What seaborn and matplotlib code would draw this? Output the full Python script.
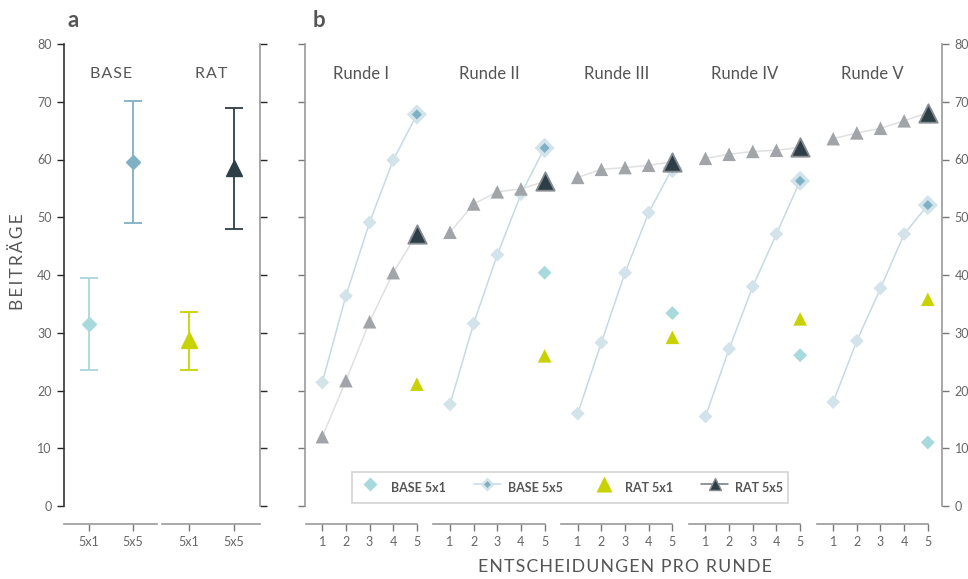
import numpy as np
import pandas as pd
import matplotlib.pyplot as plt
import seaborn as sns
from matplotlib.lines import Line2D
from matplotlib.legend_handler import HandlerTuple

# panel a: mean contributions with ranges
conds = ["BASE 5x1", "BASE 5x5", "RAT 5x1", "RAT 5x5"]
cond_ticks = ["5x1", "5x5", "5x1", "5x5"]
means = [31.5, 59.5, 28.8, 58.5]
err_lo = [23.6, 49.0, 23.6, 48.0]
err_hi = [39.4, 70.1, 33.6, 68.9]

# panel b: contributions per decision within each round
rounds = ["Runde I", "Runde II", "Runde III", "Runde IV", "Runde V"]
decisions = [1, 2, 3, 4, 5]
base55 = [[21.4, 36.4, 49.1, 59.9, 67.8],
          [17.6, 31.6, 43.5, 54.0, 62.0],
          [16.0, 28.3, 40.4, 50.8, 58.5],
          [15.5, 27.2, 38.0, 47.1, 56.3],
          [18.0, 28.6, 37.7, 47.1, 52.1]]
rat55 = [[12.0, 21.7, 31.9, 40.4, 47.1],
         [47.4, 52.3, 54.4, 54.9, 56.2],
         [56.9, 58.3, 58.6, 59.0, 59.6],
         [60.2, 60.9, 61.4, 61.6, 62.1],
         [63.6, 64.6, 65.4, 66.7, 68.1]]
base51 = [46.5, 40.4, 33.4, 26.1, 11.0]
rat51 = [21.1, 26.0, 29.2, 32.4, 35.8]

# colours
C_BASE1 = "#a8d9dd"
C_BASE5 = "#7fb0c4"
C_BASE5_LIGHT = "#d2e3ea"
C_BASE5_LINE = "#c6dae4"
C_RAT1 = "#c8d200"
C_RAT5 = "#2e3e47"
C_RAT5_GRAY = "#a1a4a8"
C_RAT5_LINE = "#e0e0e0"
C_TEXT = "#555555"
C_SPINE = "#9a9a9a"

sns.set_theme(style="white")
plt.rcParams["font.family"] = ["Lato", "DejaVu Sans"]


def spaced(s, sep="\u200a"):
    return sep.join(s)


fig = plt.figure(figsize=(9.68, 5.79), dpi=100)
AX_BOTTOM = 1 - 506 / 579
AX_HEIGHT = 462 / 579

# ---------------- panel a ----------------
xa = [0, 1, 2.3, 3.33]
axa = fig.add_axes([64 / 968, AX_BOTTOM, 196 / 968, AX_HEIGHT])
axa.set_xlim(-0.575, 3.93)
axa.set_ylim(0, 80)
for x, m, lo, hi, c, mk, ms in zip(xa, means, err_lo, err_hi,
                                   [C_BASE1, C_BASE5, C_RAT1, C_RAT5],
                                   ["D", "D", "^", "^"], [7.6, 7.6, 11.5, 11.5]):
    axa.errorbar([x], [m], yerr=[[m - lo], [hi - m]], fmt=mk, color=c, ms=ms,
                 mec=c, elinewidth=1.3, capsize=6.4, capthick=1.3)
for s in ["top", "bottom"]:
    axa.spines[s].set_visible(False)
axa.spines["left"].set_color("#333333")
axa.spines["right"].set_color(C_SPINE)
for s in ["left", "right"]:
    axa.spines[s].set_linewidth(1.2)
axa.set_xticks([])
axa.set_yticks(range(0, 81, 10))
axa.tick_params(axis="y", left=True, right=True, labelleft=True, labelright=False,
                direction="out", length=5, width=1, labelsize=9, labelcolor="#666666", pad=4)
for t in axa.yaxis.get_major_ticks():
    t.tick1line.set_color("#333333")
    t.tick2line.set_color(C_SPINE)
axa.text((xa[0] + xa[1]) / 2, 74.8, spaced("BASE"), ha="center", va="center",
         fontsize=11.5, color=C_TEXT)
axa.text((xa[2] + xa[3]) / 2, 74.8, spaced("RAT"), ha="center", va="center",
         fontsize=11.5, color=C_TEXT)


def seg_axis(parent, lo, hi, ticks, labels, ypix=524, pad=4):
    x0, x1 = parent.get_xlim()
    pos = parent.get_position()
    left = pos.x0 + (lo - x0) / (x1 - x0) * pos.width
    width = (hi - lo) / (x1 - x0) * pos.width
    ax = fig.add_axes([left, 1 - ypix / 579, width, 0.0001])
    ax.set_xlim(lo, hi)
    ax.set_facecolor("none")
    for s in ["top", "left", "right"]:
        ax.spines[s].set_visible(False)
    ax.spines["bottom"].set_color(C_SPINE)
    ax.spines["bottom"].set_linewidth(1.2)
    ax.set_yticks([])
    ax.set_xticks(ticks)
    ax.set_xticklabels(labels)
    ax.tick_params(axis="x", bottom=True, direction="out", length=5, width=1,
                   color="#777777", labelsize=9, labelcolor="#666666", pad=pad)
    return ax


seg_axis(axa, -0.575, 1.56, xa[:2], cond_ticks[:2])
seg_axis(axa, 1.68, 3.93, xa[2:], cond_ticks[2:])

# ---------------- panel b ----------------
GAP = 5.4
rows = []
for g, r in enumerate(rounds):
    for i, d in enumerate(decisions):
        rows.append({"runde": r, "x": g * GAP + d, "entscheidung": d,
                     "BASE 5x5": base55[g][i], "RAT 5x5": rat55[g][i]})
df = pd.DataFrame(rows)
df_end = df[df["entscheidung"] == 5].copy()
df_end["BASE 5x1"] = base51
df_end["RAT 5x1"] = rat51

axb = fig.add_axes([305 / 968, AX_BOTTOM, 637 / 968, AX_HEIGHT])
sns.lineplot(data=df, x="x", y="BASE 5x5", units="runde", estimator=None,
             color=C_BASE5_LINE, lw=1.1, ax=axb, zorder=1)
sns.lineplot(data=df, x="x", y="RAT 5x5", units="runde", estimator=None,
             color=C_RAT5_LINE, lw=1.1, ax=axb, zorder=1)
sns.scatterplot(data=df[df["entscheidung"] < 5], x="x", y="BASE 5x5", marker="D",
                s=50, color=C_BASE5_LIGHT, edgecolor="none", ax=axb, zorder=2)
sns.scatterplot(data=df_end, x="x", y="BASE 5x1", marker="D", s=50,
                color=C_BASE1, edgecolor="none", ax=axb, zorder=3)
sns.scatterplot(data=df_end, x="x", y="BASE 5x5", marker="D", s=105,
                color=C_BASE5_LIGHT, edgecolor="none", ax=axb, zorder=3)
sns.scatterplot(data=df_end, x="x", y="BASE 5x5", marker="D", s=26,
                color=C_BASE5, edgecolor="none", ax=axb, zorder=3)
sns.scatterplot(data=df_end, x="x", y="RAT 5x1", marker="^", s=95,
                color=C_RAT1, edgecolor="none", ax=axb, zorder=3)
sns.scatterplot(data=df[df["entscheidung"] < 5], x="x", y="RAT 5x5", marker="^",
                s=95, color=C_RAT5_GRAY, edgecolor="none", ax=axb, zorder=4)
sns.scatterplot(data=df_end, x="x", y="RAT 5x5", marker="^", s=175,
                color=C_RAT5, edgecolor="#858b90", linewidth=1.3, ax=axb, zorder=5)

axb.set_xlim(0.27, 27.2)
axb.set_ylim(0, 80)
axb.set_xlabel("")
axb.set_ylabel("")
axb.set_xticks([])
for s in ["top", "bottom"]:
    axb.spines[s].set_visible(False)
for s in ["left", "right"]:
    axb.spines[s].set_color(C_SPINE)
    axb.spines[s].set_linewidth(1.2)
axb.set_yticks(range(0, 81, 10))
axb.tick_params(axis="y", left=True, right=True, labelleft=False, labelright=True,
                direction="out", length=5, width=1, color="#777777",
                labelsize=9, labelcolor="#666666", pad=4)
for g, r in enumerate(rounds):
    axb.text(g * GAP + 2.65, 74.8, r, ha="center", va="center", fontsize=12,
             color=C_TEXT)
    seg_axis(axb, g * GAP + 0.3, g * GAP + 5, [g * GAP + d for d in decisions],
             [str(d) for d in decisions])

# legend
h_b1 = Line2D([], [], marker="D", ls="none", color=C_BASE1, ms=7, mec="none")
h_b5a = Line2D([], [], marker="D", ls="-", color=C_BASE5_LINE, mfc=C_BASE5_LIGHT,
               ms=7.5, mec="none", lw=1.1)
h_b5b = Line2D([], [], marker="D", ls="none", color=C_BASE5, ms=3.5, mec="none")
h_r1 = Line2D([], [], marker="^", ls="none", color=C_RAT1, ms=11, mec="none")
h_r5 = Line2D([], [], marker="^", ls="-", color="#6f767b", mfc=C_RAT5,
              ms=9, mec="#858b90", lw=1.1)
leg = axb.legend([h_b1, (h_b5a, h_b5b), h_r1, h_r5],
                 ["BASE 5x1", "BASE 5x5", "RAT 5x1", "RAT 5x5"],
                 handler_map={tuple: HandlerTuple(ndivide=1, pad=0)},
                 loc="lower left", bbox_to_anchor=(0.0738, 0.0065, 0.684, 0.082),
                 mode="expand", ncol=4, frameon=True, fancybox=False,
                 borderpad=0.35, handleheight=2.3, handlelength=2.2,
                 handletextpad=0.55, borderaxespad=0,
                 prop={"size": 9, "weight": "bold"})
leg.get_frame().set_edgecolor("#c8c8c8")
leg.get_frame().set_linewidth(1.2)
for t in leg.get_texts():
    t.set_color(C_TEXT)

# labels
fig.text(0.070, 0.965, "a", fontsize=16, fontweight="bold", color=C_TEXT, va="center")
fig.text(0.323, 0.965, "b", fontsize=16, fontweight="bold", color=C_TEXT, va="center")
fig.text(18 / 968, 1 - 262 / 579, spaced("BEITRÄGE", "\u2009"), rotation=90,
         ha="center", va="center", fontsize=12.5, color=C_TEXT)
fig.text(625 / 968, 1 - 567 / 579, spaced("ENTSCHEIDUNGEN PRO RUNDE"), ha="center",
         va="center", fontsize=12.8, color=C_TEXT)

fig.savefig("out.png", dpi=100)
